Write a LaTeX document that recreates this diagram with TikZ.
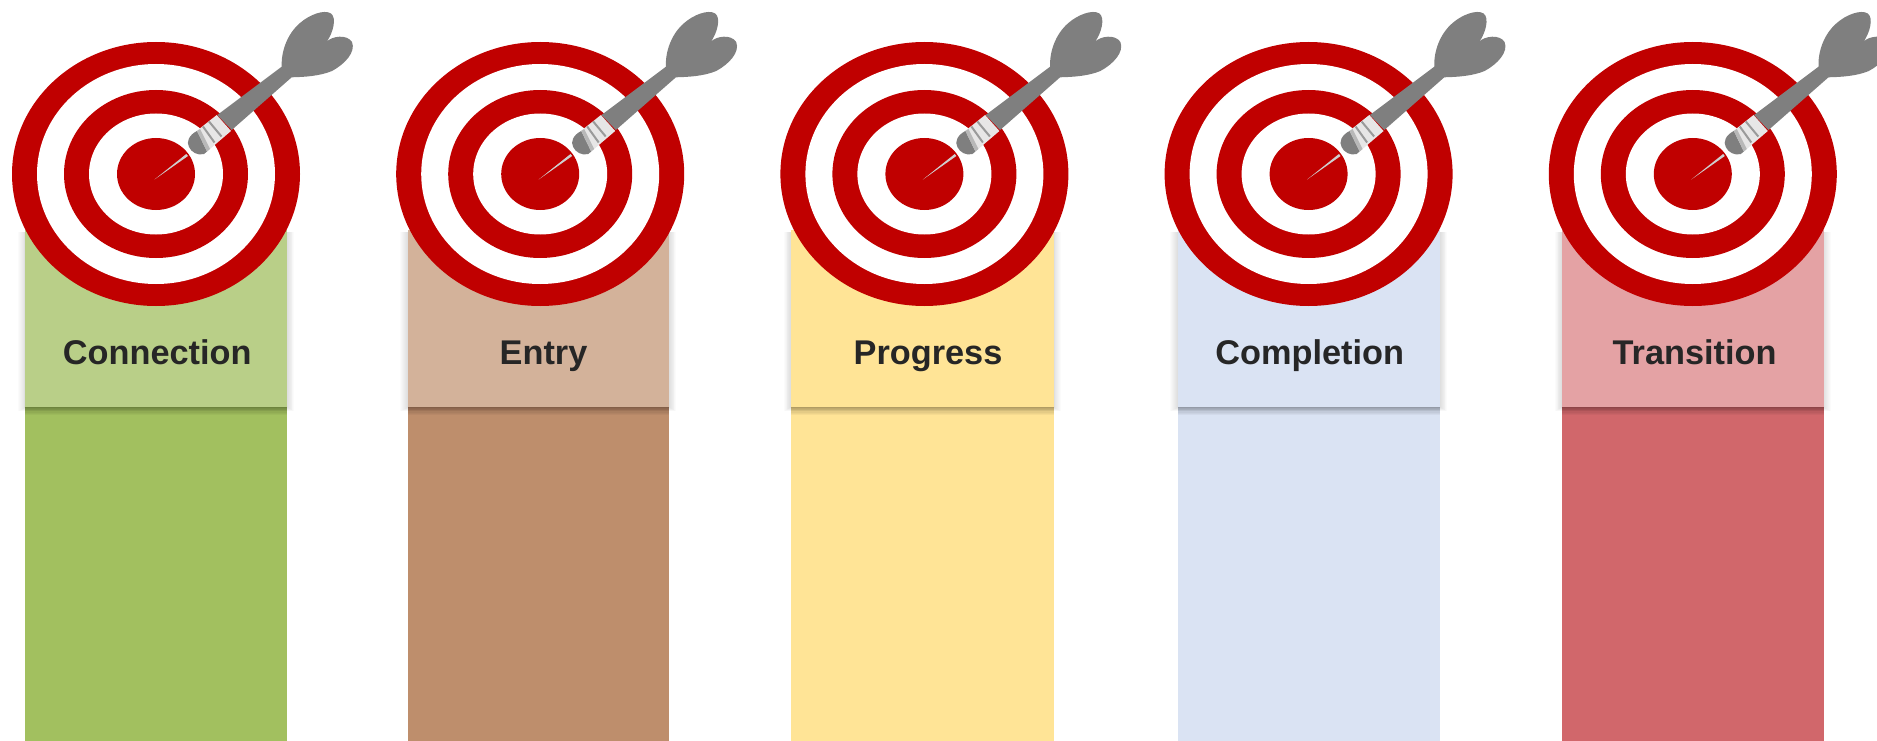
\documentclass[tikz,border=0pt]{standalone}
\usepackage{fontspec}
\setmainfont{Liberation Sans}
\definecolor{ringred}{HTML}{C00000}
\definecolor{dartgray}{HTML}{7F7F7F}
\definecolor{barrel}{HTML}{E7E6E6}
\definecolor{needle}{HTML}{CFCFCF}
\definecolor{stripe}{HTML}{9A9A9A}
\definecolor{labelink}{HTML}{262626}
\definecolor{hA}{HTML}{B9CF88}
\definecolor{bA}{HTML}{A2C05F}
\definecolor{hB}{HTML}{D3B29A}
\definecolor{bB}{HTML}{BE8E6C}
\definecolor{hC}{HTML}{FFE496}
\definecolor{bC}{HTML}{FFE496}
\definecolor{hD}{HTML}{DAE3F3}
\definecolor{bD}{HTML}{DAE3F3}
\definecolor{hE}{HTML}{E4A2A4}
\definecolor{bE}{HTML}{D1676B}
\tikzset{
  band/.style={rectangle,inner sep=0pt,outer sep=0pt,anchor=north west,draw=none},
  bandlabel/.style={anchor=base,inner sep=0pt,text=labelink,
    font=\fontsize{34.3}{40}\selectfont\bfseries},
  softshadow/.style={fill=black,fill opacity=0.016,draw=none},
  dropshadow/.style={fill=black,fill opacity=0.035,draw=none},
  redring/.style={fill=ringred,draw=none},
  whitering/.style={fill=white,draw=none}
}
\begin{document}
\begin{tikzpicture}[x=1pt,y=-1pt]
\clip (0,0) rectangle (1877,741);
\foreach \n/\cx/\xa/\xb/\tx/\lab in {
  A/156/25.3/287/157.2/Connection,
  B/540.2/407.5/669/543.5/Entry,
  C/924.4/791/1053.6/928/Progress,
  D/1308.6/1177.5/1440/1309.7/Completion,
  E/1692.8/1562/1823.5/1694.6/Transition}{
  % body column
  \node[band,fill=b\n,minimum width={\xb-\xa},minimum height=334] (body\n) at (\xa,407) {};
  % soft shadow of the header
  \foreach \i in {1,...,8}{
    \fill[softshadow] ({\xa-\i*0.9},232) rectangle ({\xb+\i*0.9},{407+\i*0.5});
  }
  \foreach \i in {1,...,6}{
    \fill[dropshadow] (\xa,407) rectangle (\xb,{407+\i*1.4});
  }
  % header
  \node[band,fill=h\n,minimum width={\xb-\xa},minimum height=177] (head\n) at (\xa,230) {};
  \node[bandlabel] (label\n) at (\tx,364) {\lab};
  % target
  \begin{scope}[shift={({\cx-156},0)}]
    \fill[redring]   (156,174) ellipse [x radius=144,y radius=132];
    \fill[whitering] (156,174) ellipse [x radius=119,y radius=110];
    \fill[redring]   (156,174) ellipse [x radius=92,y radius=84];
    \fill[whitering] (156,174) ellipse [x radius=67,y radius=60.5];
    \fill[redring]   (156,174) ellipse [x radius=39,y radius=36];
    % needle
    \fill[needle] (154.5,179.5) -- (186.3,154) -- (188,156) -- cycle;
    % shaft and flights
    \fill[dartgray] (217.3,115) -- (281.7,66.7)
      .. controls (281,52) and (287,34) .. (300,23)
      .. controls (309,15) and (324,9) .. (331,13.5)
      .. controls (337,18) and (333,33) .. (326.7,41.7)
      .. controls (332,36) and (347,34) .. (352,42)
      .. controls (356,52) and (345,64) .. (332,71)
      .. controls (320,76) and (305,77) .. (291.7,77.3)
      -- (231.7,130) -- cycle;
    % barrel
    \fill[barrel] (196,131.5) -- (216.7,115) -- (231,131) -- (207,151.5) -- cycle;
    \draw[stripe,line width=2pt] (203,126.5) -- (214.5,142.5);
    \draw[stripe,line width=2pt] (209,121.5) -- (221.5,136.5);
    % nose
    \fill[dartgray] (197,131)
      .. controls (189,135) and (186,142) .. (189,147)
      .. controls (191,152) and (198,156) .. (204,154)
      -- (207,151.5) -- cycle;
    \fill[stripe!70!white] (197,131) -- (200,129) -- (210,149) -- (207,151.5) -- cycle;
  \end{scope}
}
\end{tikzpicture}
\end{document}
